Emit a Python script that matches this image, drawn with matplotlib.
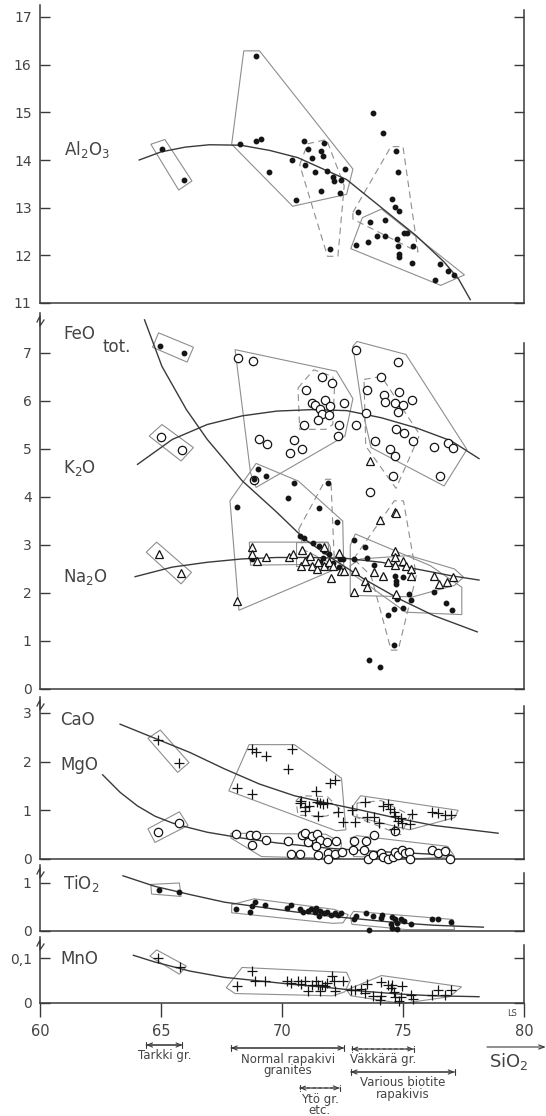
import matplotlib.pyplot as plt
from matplotlib.lines import Line2D
from matplotlib.patches import Polygon
from matplotlib.transforms import blended_transform_factory

plt.rcParams['font.family'] = ['DejaVu Sans']
plt.rcParams['mathtext.default'] = 'regular'

# ---- data (SiO2 wt%, oxide wt%) ----

# Al2O3 panel
al2o3_pts = [(65.04, 14.23), (65.95, 13.58), (68.28, 14.34), (68.91, 14.39), (69.14, 14.45),
             (68.94, 16.18), (69.46, 13.74), (70.40, 13.99), (70.57, 13.17), (70.91, 14.39),
             (71.09, 14.23), (70.97, 13.90), (71.25, 14.04), (71.37, 13.74), (71.63, 14.19),
             (71.69, 14.09), (71.75, 14.36), (71.61, 13.36), (71.84, 13.76), (72.10, 13.64),
             (72.13, 13.55), (72.44, 13.57), (72.61, 13.81), (72.41, 13.31), (71.98, 12.13),
             (73.75, 14.98), (74.17, 14.57), (73.13, 12.91), (73.62, 12.70), (73.06, 12.22),
             (73.55, 12.29), (73.94, 12.41), (74.27, 12.74), (74.27, 12.41), (74.54, 13.19),
             (74.69, 13.02), (74.85, 12.94), (74.70, 14.19), (74.79, 13.74), (74.77, 12.35),
             (74.79, 12.20), (74.83, 12.03), (74.85, 11.97), (75.05, 12.46), (75.16, 12.46),
             (75.42, 12.20), (75.38, 11.84), (76.33, 11.48), (76.54, 11.81), (76.86, 11.68),
             (77.12, 11.59)]
al2o3_curve = [(64.1, 14.0), (65.0, 14.17), (66.0, 14.27), (67.0, 14.32), (68.3, 14.31),
               (69.5, 14.2), (70.65, 14.05), (72.67, 13.59), (74.11, 13.0), (75.55, 12.41),
               (76.7, 11.86), (77.3, 11.5), (77.78, 11.07)]
al2o3_fields = [[(64.58, 14.33), (65.16, 14.43), (66.28, 13.56), (65.73, 13.37)],
                [(67.92, 14.33), (68.42, 16.29), (69.07, 16.29), (72.93, 13.81), (72.67, 13.28),
                 (70.44, 13.03)],
                [(72.84, 12.14), (73.32, 12.79), (74.11, 12.97), (77.54, 11.59), (76.56, 11.37)]]
al2o3_dashed = [[(70.73, 13.9), (71.06, 14.34), (71.84, 14.43), (72.57, 13.46), (72.31, 11.98),
                 (71.88, 11.98)],
                [(72.93, 12.9), (74.5, 14.28), (75.0, 14.28), (75.62, 12.07), (72.93, 12.76)]]

# FeO tot., K2O, Na2O panel
feo_pts = [(64.94, 7.14), (65.93, 7.0), (68.15, 3.80), (68.84, 4.37), (69.0, 4.58), (69.35, 4.44),
           (70.48, 4.29), (70.25, 3.97), (71.52, 3.78), (71.91, 4.29), (72.28, 3.48), (70.74, 3.19),
           (70.91, 3.14), (71.3, 3.04), (71.52, 2.97), (71.73, 2.88), (71.95, 2.81), (71.59, 2.64),
           (71.81, 2.57), (72.38, 2.71), (72.5, 2.71), (72.35, 2.54), (68.78, 2.71), (72.99, 3.11),
           (73.42, 2.95), (73.53, 2.72), (73.79, 2.59), (72.99, 2.71), (74.18, 2.33), (74.69, 2.36),
           (74.72, 2.26), (74.73, 2.19), (74.76, 1.88), (74.62, 1.67), (74.4, 1.55), (75.0, 1.69),
           (75.26, 1.97), (75.33, 1.86), (76.27, 2.03), (76.77, 1.80), (77.02, 1.64), (74.62, 0.91),
           (73.61, 0.60), (74.04, 0.46), (75.01, 2.34), (71.1, 2.75), (71.7, 2.72), (72.1, 2.62)]
k2o_pts = [(64.98, 5.24), (65.86, 4.98), (68.19, 6.90), (68.81, 6.83), (69.03, 5.20), (69.36, 5.10),
           (70.32, 4.91), (70.48, 5.19), (70.81, 5.01), (68.83, 4.36), (70.91, 5.51), (70.99, 6.22),
           (71.26, 5.96), (71.35, 5.91), (71.64, 6.50), (72.07, 6.38), (71.78, 6.02), (71.58, 5.84),
           (71.98, 5.89), (71.66, 5.72), (71.95, 5.70), (71.49, 5.60), (72.35, 5.49), (72.31, 5.28),
           (72.57, 5.95), (73.07, 7.07), (73.07, 5.51), (73.49, 5.75), (73.53, 6.22), (74.1, 6.49),
           (74.21, 6.13), (74.25, 5.98), (74.69, 5.95), (74.8, 6.81), (74.83, 6.18), (74.79, 5.78),
           (75.01, 5.91), (75.36, 6.02), (73.85, 5.17), (74.47, 4.99), (74.69, 4.85), (74.72, 5.41),
           (75.06, 5.34), (75.41, 5.17), (74.57, 4.44), (73.64, 4.11), (76.27, 5.04), (76.85, 5.12),
           (77.06, 5.03), (76.53, 4.43)]
na2o_pts = [(64.91, 2.81), (65.83, 2.41), (68.15, 1.83), (68.78, 2.95), (68.78, 2.81), (68.97, 2.67),
            (69.33, 2.74), (70.3, 2.74), (70.44, 2.81), (70.83, 2.9), (70.77, 2.57), (70.94, 2.67),
            (71.16, 2.78), (71.23, 2.57), (71.45, 2.5), (71.49, 2.64), (71.73, 2.95), (71.73, 2.57),
            (71.95, 2.64), (72.02, 2.31), (72.1, 2.57), (72.35, 2.83), (72.45, 2.45), (72.55, 2.45),
            (73.02, 2.45), (72.99, 2.02), (73.45, 2.26), (73.53, 2.13), (73.65, 4.76), (74.04, 3.53),
            (74.66, 3.69), (74.73, 3.66), (73.82, 2.43), (74.18, 2.36), (74.4, 2.64), (74.65, 2.88),
            (74.69, 2.74), (74.69, 2.58), (74.98, 2.67), (75.13, 2.57), (75.35, 2.5), (75.31, 2.36),
            (74.73, 1.98), (76.27, 2.36), (76.49, 2.19), (76.82, 2.22), (77.06, 2.34)]
feo_curve = [(64.32, 7.69), (65.04, 6.72), (66.05, 5.82), (66.91, 5.2), (68.35, 4.34), (69.79, 3.68),
             (70.94, 3.12), (72.1, 2.71), (73.39, 2.29), (74.83, 1.88), (76.27, 1.53), (78.07, 1.19)]
k2o_curve = [(64.03, 4.68), (65.47, 5.2), (66.91, 5.51), (68.35, 5.69), (69.79, 5.79), (71.23, 5.82),
             (72.67, 5.80), (74.11, 5.65), (75.55, 5.44), (76.99, 5.17), (78.14, 4.8)]
na2o_curve = [(63.93, 2.34), (65.47, 2.54), (66.91, 2.64), (68.35, 2.71), (69.79, 2.74), (71.23, 2.74),
              (72.67, 2.72), (74.11, 2.64), (75.55, 2.5), (76.99, 2.36), (78.14, 2.27)]
alk_fields = [[(64.65, 7.12), (64.9, 7.42), (66.34, 7.12), (66.08, 6.81)],
              [(64.51, 5.27), (65.04, 5.51), (66.34, 5.03), (65.83, 4.75)],
              [(64.39, 2.85), (64.82, 3.06), (66.26, 2.43), (65.83, 2.19)],
              [(68.06, 7.07), (72.25, 6.62), (72.93, 6.05), (72.6, 5.27), (68.93, 4.2), (68.7, 4.5)],
              [(72.93, 7.14), (73.1, 7.24), (75.12, 6.97), (77.64, 4.99), (76.7, 4.23), (73.68, 5.03),
               (73.32, 5.82)],
              [(67.85, 3.92), (68.93, 4.7), (70.68, 4.33), (72.51, 3.5), (72.55, 2.57), (68.22, 1.64)],
              [(68.65, 3.06), (71.9, 3.06), (72.0, 2.95), (72.0, 2.6), (68.7, 2.58)],
              [(70.6, 3.05), (71.9, 3.05), (72.0, 2.6), (70.6, 2.55)],
              [(72.82, 2.99), (73.03, 3.23), (76.13, 2.57), (77.43, 2.12), (77.43, 1.55), (75.12, 1.6),
               (72.82, 2.43)],
              [(72.82, 1.95), (72.82, 2.57), (73.25, 2.71), (75.26, 2.78), (77.13, 2.5), (77.5, 2.33),
               (77.13, 2.16), (75.41, 1.92)]]
alk_dashed = [[(70.66, 6.27), (71.31, 6.65), (72.1, 6.51), (72.17, 6.3), (72.1, 5.51), (71.81, 5.41),
               (70.73, 5.41)],
              [(73.39, 6.45), (74.11, 6.51), (75.69, 5.3), (74.71, 4.18), (73.46, 5.06)],
              [(70.69, 3.33), (71.81, 4.37), (72.02, 4.37), (72.17, 2.58), (70.9, 2.9)],
              [(72.96, 2.71), (74.64, 3.92), (75.02, 3.92), (75.55, 2.36), (74.8, 0.81), (74.51, 0.81),
               (73.68, 2.36)]]

# CaO, MgO panel
cao_pts = [(64.87, 2.44), (65.76, 1.97), (68.75, 2.26), (68.93, 2.19), (69.33, 2.12), (70.41, 2.27),
           (70.25, 1.84), (68.14, 1.45), (68.75, 1.33), (71.4, 1.4), (71.98, 1.56), (72.19, 1.63),
           (70.73, 1.16), (70.8, 1.19), (70.94, 1.07), (71.13, 1.09), (70.97, 0.99), (71.45, 1.17),
           (71.55, 1.15), (71.69, 1.13), (71.84, 1.15), (71.49, 0.88), (72.31, 0.97), (72.5, 0.76),
           (72.89, 1.0), (73.03, 0.76), (73.42, 1.17), (73.51, 0.86), (73.82, 0.87), (74.01, 0.74),
           (74.18, 1.09), (74.4, 1.13), (74.47, 1.02), (74.61, 0.97), (74.69, 0.88), (74.8, 0.78),
           (74.9, 0.85), (74.97, 0.74), (75.29, 0.71), (75.38, 0.93), (76.2, 0.97), (76.44, 0.95),
           (76.75, 0.9), (76.99, 0.9), (74.61, 0.62)]
mgo_pts = [(64.87, 0.55), (65.76, 0.74), (68.09, 0.51), (68.67, 0.49), (68.93, 0.49), (68.76, 0.29),
           (69.32, 0.40), (70.25, 0.38), (70.37, 0.10), (70.73, 0.10), (70.83, 0.49), (70.97, 0.53),
           (71.09, 0.35), (71.23, 0.47), (71.45, 0.51), (71.55, 0.40), (71.4, 0.26), (71.49, 0.08),
           (71.84, 0.35), (71.92, 0.12), (71.92, 0.01), (72.19, 0.10), (72.24, 0.38), (72.46, 0.15),
           (72.99, 0.36), (72.93, 0.19), (73.39, 0.19), (73.46, 0.36), (73.79, 0.50), (73.56, 0.0),
           (73.75, 0.08), (74.11, 0.13), (74.18, 0.05), (74.4, 0.01), (74.57, 0.05), (74.69, 0.15),
           (74.8, 0.08), (74.95, 0.19), (75.09, 0.12), (75.26, 0.15), (75.29, 0.01), (74.69, 0.57),
           (76.2, 0.19), (76.44, 0.13), (76.73, 0.17), (76.96, 0.01)]
cao_curve = [(63.31, 2.77), (64.75, 2.48), (66.19, 2.19), (67.63, 1.85), (69.07, 1.54), (70.51, 1.30),
             (71.95, 1.14), (73.39, 0.99), (74.83, 0.83), (76.27, 0.69), (78.93, 0.53)]
mgo_curve = [(62.59, 1.73), (63.31, 1.37), (64.03, 1.09), (64.75, 0.88), (65.47, 0.74), (66.19, 0.64),
             (66.91, 0.55), (68.35, 0.43), (69.79, 0.33), (71.95, 0.22), (74.11, 0.15), (76.99, 0.08)]
camg_fields = [[(64.46, 2.48), (64.97, 2.65), (66.16, 1.98), (65.69, 1.78)],
               [(64.46, 0.62), (65.76, 0.97), (66.12, 0.69), (64.75, 0.34)],
               [(67.8, 1.4), (68.64, 2.35), (70.51, 2.35), (72.46, 1.66), (72.64, 0.6), (72.24, 0.58)],
               [(72.93, 1.09), (73.25, 1.3), (77.28, 1.0), (77.13, 0.85), (75.26, 0.6), (72.96, 0.88)],
               [(67.89, 0.53), (71.81, 0.51), (72.46, 0.33), (72.39, 0.01), (69.15, 0.05), (67.89, 0.43)],
               [(72.82, 0.43), (73.1, 0.48), (76.85, 0.26), (77.13, 0.05), (75.7, 0.01), (72.96, 0.05)]]
camg_dashed = [[(70.58, 1.2), (70.8, 1.3), (71.88, 1.28), (72.46, 0.99), (71.81, 0.88), (70.66, 0.9)],
               [(73.1, 1.15), (74.1, 1.2), (75.3, 0.9), (74.9, 0.5), (73.1, 0.85)]]

# TiO2 panel
tio2_pts = [(64.9, 0.86), (65.76, 0.81), (68.11, 0.45), (68.67, 0.39), (68.76, 0.53), (68.9, 0.60),
            (69.29, 0.54), (70.19, 0.48), (70.37, 0.54), (70.73, 0.45), (70.87, 0.39), (71.09, 0.41),
            (71.2, 0.46), (71.37, 0.39), (71.4, 0.48), (71.52, 0.32), (71.59, 0.41), (71.73, 0.37),
            (71.87, 0.39), (72.02, 0.34), (72.19, 0.38), (72.31, 0.34), (72.45, 0.37), (72.96, 0.26),
            (73.07, 0.31), (73.46, 0.38), (73.75, 0.32), (74.11, 0.28), (74.15, 0.34), (74.54, 0.30),
            (74.69, 0.24), (74.76, 0.17), (74.9, 0.24), (75.05, 0.21), (75.33, 0.15), (74.54, 0.07),
            (74.76, 0.05), (73.61, 0.02), (76.2, 0.26), (76.45, 0.26), (76.99, 0.19), (74.51, 0.15)]
tio2_curve = [(63.43, 1.15), (64.75, 0.93), (66.19, 0.76), (67.63, 0.6), (69.07, 0.5), (70.51, 0.4),
              (71.95, 0.31), (73.39, 0.24), (74.83, 0.17), (76.27, 0.12), (78.32, 0.08)]
tio2_fields = [[(64.58, 0.97), (65.76, 1.0), (65.83, 0.72), (64.61, 0.77)],
               [(67.92, 0.55), (68.85, 0.67), (72.16, 0.45), (72.74, 0.34), (72.52, 0.17), (72.09, 0.16),
                (67.92, 0.38)],
               [(72.82, 0.31), (72.96, 0.41), (77.06, 0.24), (77.13, 0.03), (75.12, 0.03), (72.89, 0.14)]]

# MnO panel
mno_pts = [(64.87, 0.100), (65.79, 0.080), (68.74, 0.071), (68.13, 0.037), (68.9, 0.049), (69.29, 0.049),
           (70.19, 0.049), (70.37, 0.044), (70.66, 0.049), (70.8, 0.043), (70.94, 0.049), (71.09, 0.027),
           (71.23, 0.039), (71.4, 0.049), (71.49, 0.041), (71.55, 0.027), (71.66, 0.041), (71.78, 0.037),
           (71.88, 0.044), (72.06, 0.061), (72.16, 0.049), (72.5, 0.049), (72.21, 0.027), (72.84, 0.030),
           (73.03, 0.029), (73.25, 0.032), (73.42, 0.023), (73.53, 0.043), (73.75, 0.016), (74.11, 0.016),
           (74.08, 0.046), (74.4, 0.041), (74.51, 0.034), (74.61, 0.025), (74.69, 0.014), (74.54, 0.039),
           (74.97, 0.037), (74.9, 0.014), (75.33, 0.018), (75.41, 0.009), (74.04, 0.007), (74.83, 0.004),
           (76.2, 0.018), (76.44, 0.030), (76.73, 0.018), (76.99, 0.029)]
mno_curve = [(63.86, 0.106), (64.75, 0.091), (66.19, 0.071), (67.63, 0.057), (69.07, 0.049),
             (70.51, 0.041), (71.95, 0.034), (73.39, 0.026), (74.83, 0.020), (76.27, 0.016),
             (78.14, 0.014)]
mno_fields = [[(64.54, 0.104), (64.82, 0.118), (66.05, 0.082), (65.76, 0.064)],
              [(67.7, 0.034), (68.35, 0.079), (72.67, 0.068), (72.82, 0.05), (72.6, 0.025), (72.1, 0.016),
               (68.06, 0.021)],
              [(72.67, 0.029), (74.11, 0.061), (77.42, 0.036), (76.92, 0.014), (74.97, -0.001),
               (72.84, 0.016)]]

# rock groups under the SiO2 axis: (label lines, from, to, dashed)
groups = [(["Tarkki gr."], 64.39, 65.88, False),
          (["Normal rapakivi", "granites"], 67.89, 72.57, False),
          (["Väkkärä gr."], 72.89, 75.44, True),
          (["Various biotite", "rapakivis"], 72.84, 77.13, False),
          (["Ytö gr.", "etc."], 70.73, 72.38, True)]

W, H = 546, 1116
INK = '#151515'
LINE = '#3a3a3a'
EDGE = '#8e8e8e'
TXT = '#444444'


def fy(py):
    return 1 - py / H


def panel(fig, y0, py0, tick, pytick, pytop, rtop):
    unit = (py0 - pytick) / (tick - y0)
    ax = fig.add_axes([40 / W, fy(py0), 484 / W, (py0 - pytop) / H])
    ax.set_xlim(60, 80)
    ax.set_ylim(y0, y0 + (py0 - pytop) / unit)
    ax.patch.set_alpha(0)
    ax.spines['top'].set_visible(False)
    for s in ['left', 'right', 'bottom']:
        ax.spines[s].set_color(LINE)
        ax.spines[s].set_linewidth(1.1)
    ax.spines['right'].set_bounds(y0, rtop)
    ax.set_xticks([])
    ax.tick_params(axis='y', direction='in', length=7, width=1.0, color=LINE, left=True,
                   right=True, labelsize=10, labelcolor=TXT, pad=6)
    return ax


def draw(ax, curves=(), fields=(), dashed=()):
    for c in curves:
        x, y = zip(*c)
        ax.plot(x, y, color=LINE, lw=1.0, clip_on=False, zorder=2)
    for f in fields:
        ax.add_patch(Polygon(f, closed=True, fill=False, ec=EDGE, lw=0.8, zorder=1, clip_on=False))
    for f in dashed:
        ax.add_patch(Polygon(f, closed=True, fill=False, ec=EDGE, lw=0.8, ls=(0, (6, 4)),
                             zorder=1, clip_on=False))


def scatter(ax, pts, kind):
    x, y = zip(*pts)
    if kind == 'dot':
        ax.plot(x, y, 'o', ms=3.2, color=INK, clip_on=False, zorder=3)
    elif kind == 'circle':
        ax.plot(x, y, 'o', ms=6, mfc='white', mec=INK, mew=0.9, clip_on=False, zorder=3)
    elif kind == 'tri':
        ax.plot(x, y, '^', ms=5.5, mfc='white', mec=INK, mew=0.9, clip_on=False, zorder=4)
    else:
        ax.plot(x, y, '+', ms=7, color=INK, mew=0.9, clip_on=False, zorder=3)


def brk(fig, pytop):
    # little break sign on the left axis
    xs = [37, 40, 40, 44]
    ys = [pytop + 9, pytop + 3, pytop + 13, pytop + 7]
    fig.add_artist(Line2D([x / W for x in xs], [fy(y) for y in ys], color=LINE, lw=0.9))


def span(ax, tr, x1, x2, py, dashed):
    ls = '--' if dashed else '-'
    ax.annotate('', xy=(x2, fy(py)), xytext=(x1, fy(py)), xycoords=tr, textcoords=tr,
                arrowprops=dict(arrowstyle='<->,head_length=0.35,head_width=0.15', color=LINE,
                                lw=0.8, ls=ls, shrinkA=0, shrinkB=0))
    ax.annotate('', xy=(x2, fy(py)), xytext=(x1, fy(py)), xycoords=tr, textcoords=tr,
                arrowprops=dict(arrowstyle='|-|,widthA=0.25,widthB=0.25', color=LINE,
                                lw=0.8, ls=ls, shrinkA=0, shrinkB=0))


def main():
    fig = plt.figure(figsize=(W / 100, H / 100), dpi=100)

    ax1 = panel(fig, 11, 303, 17, 17, 5, 17.15)
    ax1.set_yticks([11, 12, 13, 14, 15, 16, 17])
    draw(ax1, curves=[al2o3_curve], fields=al2o3_fields, dashed=al2o3_dashed)
    scatter(ax1, al2o3_pts, 'dot')
    ax1.text(61.0, 14.23, r'Al$_2$O$_3$', fontsize=12, color=TXT, va='center')

    ax2 = panel(fig, 0, 689, 7, 353, 313, 7.2)
    ax2.set_yticks(range(0, 8))
    draw(ax2, curves=[feo_curve, k2o_curve, na2o_curve], fields=alk_fields, dashed=alk_dashed)
    scatter(ax2, k2o_pts, 'circle')
    scatter(ax2, na2o_pts, 'tri')
    scatter(ax2, feo_pts, 'dot')
    ax2.text(60.95, 7.40, 'FeO', fontsize=12, color=TXT, va='center')
    ax2.text(62.6, 7.13, 'tot.', fontsize=12, color=TXT, va='center')
    ax2.text(60.95, 4.6, r'K$_2$O', fontsize=12, color=TXT, va='center')
    ax2.text(60.95, 2.33, r'Na$_2$O', fontsize=12, color=TXT, va='center')
    brk(fig, 313)

    ax3 = panel(fig, 0, 859, 3, 713, 697, 3.15)
    ax3.set_yticks([0, 1, 2, 3])
    draw(ax3, curves=[cao_curve, mgo_curve], fields=camg_fields, dashed=camg_dashed)
    scatter(ax3, mgo_pts, 'circle')
    scatter(ax3, cao_pts, 'cross')
    ax3.text(60.85, 2.86, 'CaO', fontsize=12, color=TXT, va='center')
    ax3.text(60.85, 1.93, 'MgO', fontsize=12, color=TXT, va='center')
    brk(fig, 697)

    ax4 = panel(fig, 0, 931, 1, 883, 865, 1.2)
    ax4.set_yticks([0, 1])
    draw(ax4, curves=[tio2_curve], fields=tio2_fields)
    scatter(ax4, tio2_pts, 'dot')
    ax4.text(60.95, 1.0, r'TiO$_2$', fontsize=12, color=TXT, va='center')
    brk(fig, 865)

    ax5 = panel(fig, 0, 1003, 0.1, 958, 937, 0.13)
    ax5.set_yticks([0, 0.1])
    ax5.set_yticklabels(['0', '0,1'])
    draw(ax5, curves=[mno_curve], fields=mno_fields)
    scatter(ax5, mno_pts, 'cross')
    ax5.text(60.85, 0.098, 'MnO', fontsize=12, color=TXT, va='center')
    brk(fig, 937)

    # SiO2 axis
    ax5.set_xticks([60, 65, 70, 75, 80])
    ax5.tick_params(axis='x', direction='out', length=10, width=1.0, color=LINE,
                    labelsize=10.5, labelcolor=TXT, pad=5)

    bt = blended_transform_factory(ax5.transData, fig.transFigure)
    ax5.text(79.5, fy(1013), 'LS', fontsize=6, color=TXT, ha='center', va='center', transform=bt)

    row_y = [1045, 1048, 1049, 1072, 1088]
    for (lines, x1, x2, dashed), py in zip(groups, row_y):
        span(ax5, bt, x1, x2, py, dashed)
        for i, t in enumerate(lines):
            ax5.text((x1 + x2) / 2, fy(py + 11 + 11.5 * i), t, fontsize=8.5, color=TXT,
                     ha='center', va='center', transform=bt)

    ax5.annotate('', xy=(80.9, fy(1047)), xytext=(78.47, fy(1047)), xycoords=bt, textcoords=bt,
                 arrowprops=dict(arrowstyle='->,head_length=0.4,head_width=0.15', color=LINE,
                                 lw=0.8, shrinkA=0, shrinkB=0))
    ax5.text(79.38, fy(1061), r'SiO$_2$', fontsize=13, color=TXT, ha='center', va='center',
             transform=bt)

    fig.savefig('out.png', dpi=100)


if __name__ == '__main__':
    main()
